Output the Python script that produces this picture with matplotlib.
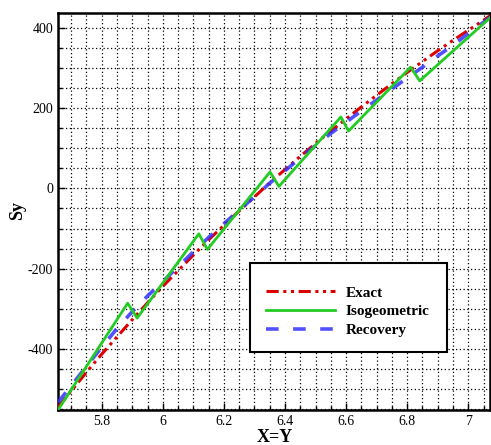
import matplotlib
matplotlib.use("Agg")
import matplotlib.pyplot as plt
from matplotlib.ticker import MultipleLocator, FuncFormatter
from matplotlib.patches import Rectangle

# ---- data ----
x_exact = [5.657, 5.70, 5.75, 5.80, 5.85, 5.90, 5.95, 6.00, 6.05, 6.10, 6.15, 6.20,
           6.25, 6.30, 6.35, 6.40, 6.45, 6.50, 6.55, 6.60, 6.65, 6.70, 6.75, 6.80,
           6.85, 6.90, 6.95, 7.00, 7.05, 7.071]
y_exact = [-545, -505, -458, -413, -370, -327, -285, -244, -205, -166, -128, -92,
           -56, -21, 14, 47, 80, 112, 143, 173, 203, 232, 261, 289,
           316, 343, 369, 394, 419, 430]

x_iga = [5.657, 5.885, 5.916, 6.118, 6.146, 6.351, 6.380, 6.583, 6.608, 6.811, 6.841, 7.071]
y_iga = [-552, -286, -323, -113, -152, 41, 5, 178, 143, 302, 268, 425]

x_rec = [5.657, 5.70, 5.75, 5.80, 5.85, 5.90, 5.95, 6.00, 6.05, 6.10, 6.15, 6.20,
         6.25, 6.30, 6.35, 6.40, 6.45, 6.50, 6.55, 6.60, 6.65, 6.70, 6.75, 6.80,
         6.85, 6.90, 6.95, 7.00, 7.05, 7.071]
y_rec = [-533, -492, -443, -396, -349, -307, -268, -232, -195, -158, -122, -88,
         -54, -21, 13, 44, 76, 107, 137, 165, 193, 220, 248, 275,
         302, 330, 357, 386, 414, 426]

labels = ["Exact", "Isogeometric", "Recovery"]
x_label = "X=Y"
y_label = "Sy"

# ---- figure ----
W, H = 491, 445
fig = plt.figure(figsize=(W/100, H/100), dpi=100)
ax = fig.add_axes([58/W, 35/H, 432/W, 397/H])

serif = ["Liberation Serif", "DejaVu Serif"]

ax.plot(x_exact, y_exact, color="#dd0000", lw=2.2, dashes=[4, 1.5, 1, 1.5, 1, 1.5],
        label=labels[0], zorder=3)
ax.plot(x_iga, y_iga, color="#22cc22", lw=2.0, label=labels[1], zorder=4)
ax.plot(x_rec, y_rec, color="#3333ff", lw=2.6, dashes=[3.5, 4], label=labels[2],
        alpha=0.85, zorder=3)

ax.set_xlim(5.657, 7.071)
ax.set_ylim(-552, 437)

ax.xaxis.set_major_locator(MultipleLocator(0.2))
ax.xaxis.set_minor_locator(MultipleLocator(0.05))
ax.yaxis.set_major_locator(MultipleLocator(200))
ax.yaxis.set_minor_locator(MultipleLocator(50))
ax.xaxis.set_major_formatter(FuncFormatter(lambda v, p: f"{v:g}"))
ax.yaxis.set_major_formatter(FuncFormatter(lambda v, p: f"{v:g}"))

ax.grid(True, which="both", color="black", linestyle=(0, (1, 2)), linewidth=0.9)
ax.set_axisbelow(True)
ax.tick_params(which="both", direction="in", labelsize=10, width=1)
ax.tick_params(which="major", length=5)
ax.tick_params(which="minor", length=3)
for lab in ax.get_xticklabels() + ax.get_yticklabels():
    lab.set_fontfamily(serif)

for s in ax.spines.values():
    s.set_linewidth(1.8)

fig.text(275/W, 1 - 437/H, x_label, ha="center", va="center",
         fontsize=13, fontweight="bold", family=serif)
fig.text(18/W, 1 - 211/H, y_label, ha="center", va="center", rotation=90,
         fontsize=13, fontweight="bold", family=serif)

# legend box
box = Rectangle((250/W, 1 - 352/H), 197/W, 89/H, transform=fig.transFigure,
                facecolor="white", edgecolor="black", linewidth=1.5, zorder=5,
                clip_on=False)
ax.add_patch(box)

leg = ax.legend(loc="upper left", bbox_to_anchor=(266/W, 1 - 286/H),
                bbox_transform=fig.transFigure, frameon=False,
                prop={"family": serif, "weight": "bold", "size": 11},
                handlelength=4.5, handletextpad=0.7, borderpad=0,
                labelspacing=0.32, borderaxespad=0)
leg.set_zorder(6)

fig.savefig("out.png", dpi=100)
